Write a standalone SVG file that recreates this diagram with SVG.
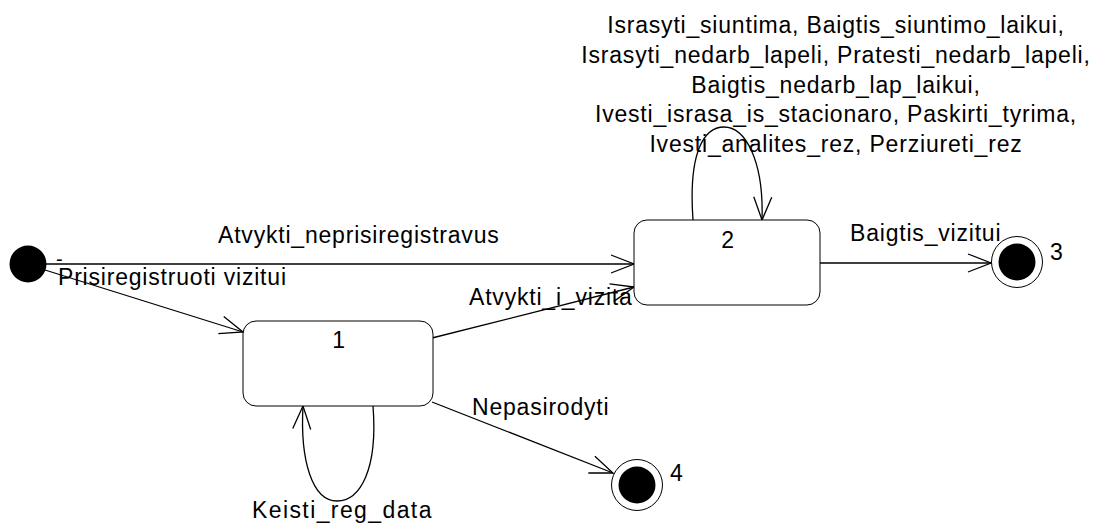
<svg xmlns="http://www.w3.org/2000/svg" width="1109" height="530" viewBox="0 0 1109 530">
  <style>
    text { font-family: "Liberation Sans", Arial, sans-serif; font-size: 23px; fill: #000; letter-spacing: 0.8px; }
    .state { fill: #fff; stroke: #000; stroke-width: 1; }
    .edge { fill: none; stroke: #000; stroke-width: 1.3; }
    .ring { fill: #fff; stroke: #000; stroke-width: 1; }
    .dot { fill: #000; }
  </style>
  <defs>
    <marker id="open" markerUnits="userSpaceOnUse" markerWidth="30" markerHeight="24" viewBox="-26 -12 28 24" refX="0" refY="0" orient="auto">
      <path d="M -23 -9 L 0 0 L -23 9" fill="none" stroke="#000" stroke-width="1.3"/>
    </marker>
  </defs>

  <!-- transitions -->
  <g id="connectors">
    <path class="edge" d="M 46 264 L 634 264" marker-end="url(#open)"/>
    <path class="edge" d="M 45 270 L 243 332" marker-end="url(#open)"/>
    <path class="edge" d="M 432 338 L 634 287" marker-end="url(#open)"/>
    <path class="edge" d="M 432 402 L 613 473" marker-end="url(#open)"/>
    <path class="edge" d="M 820 263 L 991 263" marker-end="url(#open)"/>
    <path class="edge" d="M 693 220 C 688 150, 705 127, 724 127 C 745 127, 764 160, 762 220" marker-end="url(#open)"/>
    <path class="edge" d="M 373 406 C 378 470, 360 501, 337 501 C 312 501, 300 460, 303 406" marker-end="url(#open)"/>

    <text x="56" y="266" style="font-size:20px">-</text>
    <text x="218" y="243">Atvykti_neprisiregistravus</text>
    <text x="58" y="285">Prisiregistruoti vizitui</text>
    <text x="469" y="305">Atvykti_i_vizita</text>
    <text x="472" y="415">Nepasirodyti</text>
    <text x="850" y="241">Baigtis_vizitui</text>
    <text x="252" y="518" style="letter-spacing:1.4px">Keisti_reg_data</text>
    <g style="letter-spacing:0.3px" text-anchor="middle">
      <text x="836" y="33">Israsyti_siuntima, Baigtis_siuntimo_laikui,</text>
      <text x="836" y="63">Israsyti_nedarb_lapeli, Pratesti_nedarb_lapeli,</text>
      <text x="836" y="93">Baigtis_nedarb_lap_laikui,</text>
      <text x="836" y="122">Ivesti_israsa_is_stacionaro, Paskirti_tyrima,</text>
      <text x="836" y="152">Ivesti_analites_rez, Perziureti_rez</text>
    </g>
  </g>

  <!-- initial pseudo-state -->
  <g id="initial">
    <circle class="dot" cx="28" cy="264" r="18.5"/>
  </g>

  <!-- state 1 -->
  <g id="state1">
    <rect class="state" x="243" y="321" width="190" height="85" rx="13"/>
    <text x="339" y="348" text-anchor="middle">1</text>
  </g>

  <!-- state 2 -->
  <g id="state2">
    <rect class="state" x="634" y="220" width="186" height="85" rx="13"/>
    <text x="728" y="248" text-anchor="middle">2</text>
  </g>

  <!-- final state 3 -->
  <g id="final3">
    <circle class="ring" cx="1017" cy="262" r="25.5"/>
    <circle class="dot" cx="1017" cy="262" r="18.5"/>
    <text x="1050" y="260">3</text>
  </g>

  <!-- final state 4 -->
  <g id="final4">
    <circle class="ring" cx="637" cy="485" r="25.5"/>
    <circle class="dot" cx="637" cy="485" r="18.5"/>
    <text x="670" y="481">4</text>
  </g>
</svg>
